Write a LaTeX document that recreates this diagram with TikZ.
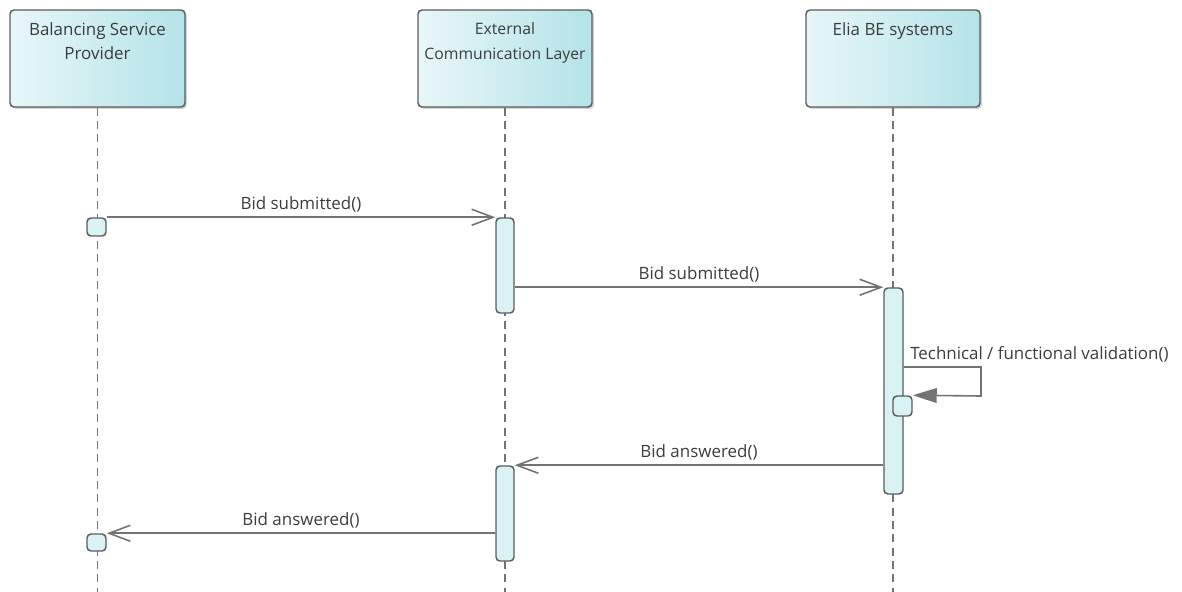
\documentclass[tikz,border=0pt]{standalone}
\usepackage{fontspec}
\setmainfont{Open Sans}
\usetikzlibrary{arrows.meta,positioning,fit,shadows}

\definecolor{headL}{HTML}{E8F6F8}
\definecolor{headR}{HTML}{B4E3E8}
\definecolor{actfill}{HTML}{D9F2F4}
\definecolor{edge}{HTML}{5C5C5C}
\definecolor{wire}{HTML}{737373}
\definecolor{txt}{HTML}{3C3C3C}

\begin{document}
\begin{tikzpicture}[
    x=0.75pt, y=-0.75pt,
    font=\fontsize{12.7}{18.7}\selectfont, text=txt,
    head/.style={draw=edge, line width=1.1pt, rounded corners=3pt, inner sep=0pt,
      left color=headL, right color=headR,
      drop shadow={shadow xshift=1.5pt, shadow yshift=-1.5pt, fill=black!35}},
    headtxt/.style={align=center, inner sep=0pt},
    life/.style={draw=wire, line width=1pt, dash pattern=on 6pt off 4pt},
    act/.style={draw=edge, line width=1.1pt, fill=actfill, rounded corners=3pt, inner sep=0pt},
    msg/.style={draw=wire, line width=1.2pt, -{Straight Barb[length=16pt, width=12pt]}},
    selfmsg/.style={draw=wire, line width=1.2pt, -{Triangle[length=18pt, width=11pt]}},
    lbl/.style={above, inner sep=3pt},
  ]
  \useasboundingbox (0,0) rectangle (1182,592);

  % --- Lifeline heads ---
  \node[head, fit={(10,10)(185,107)}] (bsp) {};
  \node[head, fit={(418,10)(592,107)}] (ecl) {};
  \node[head, fit={(806,10)(980,107)}] (elia) {};
  \node[headtxt, below=9.5pt of bsp.north] (bsp-t) {Balancing Service\\Provider};
  \node[headtxt, below=9.5pt of ecl.north, font=\fontsize{11.8}{18.7}\selectfont] (ecl-t) {External\\Communication Layer};
  \node[headtxt, below=9.5pt of elia.north] (elia-t) {Elia BE systems};

  % --- Lifelines ---
  \coordinate (bsp-end) at (97.5,592);
  \coordinate (ecl-end) at (505,592);
  \coordinate (elia-end) at (893,592);
  \draw[life] (bsp) -- (bsp-end);
  \draw[life] (ecl) -- (ecl-end);
  \draw[life] (elia) -- (elia-end);

  % --- Activations ---
  \node[act, fit={(87,218)(106,236)}] (bsp-s1) {};
  \node[act, fit={(496,218)(514,313)}] (ecl-a1) {};
  \node[act, fit={(884,288)(903,494)}] (elia-a1) {};
  \node[act, fit={(893,396)(912,416)}] (elia-s1) {};
  \node[act, fit={(496,466)(514,561)}] (ecl-a2) {};
  \node[act, fit={(87,534)(106,551)}] (bsp-s2) {};

  % --- Messages ---
  \draw[msg] (bsp-s1.north east) -- node[lbl] (m1) {Bid submitted()} (ecl-a1.north west);
  \draw[msg] (ecl-a1.east |- elia-a1.north) -- node[lbl] (m2) {Bid submitted()} (elia-a1.north west);
  % self call
  \coordinate (loop-a) at (981,367);
  \coordinate (loop-b) at (981,396);
  \draw[selfmsg] (elia-a1.east |- loop-a) -- (loop-a) -- (loop-b) -- (elia-s1.north east);
  \node[anchor=base west, inner sep=0pt] (m3) at (910,359) {Technical / functional validation()};
  \draw[msg] (elia-a1.west |- ecl-a2.north) -- node[lbl] (m4) {Bid answered()} (ecl-a2.north east);
  \draw[msg] (ecl-a2.west |- bsp-s2.north) -- node[lbl] (m5) {Bid answered()} (bsp-s2.north east);
\end{tikzpicture}
\end{document}
